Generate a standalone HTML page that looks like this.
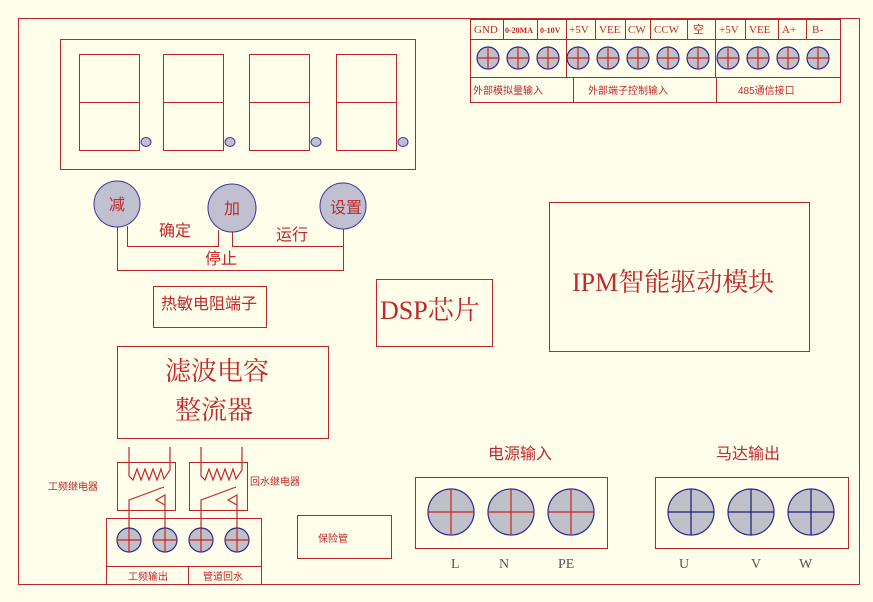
<!DOCTYPE html>
<html><head><meta charset="utf-8"><style>
html,body{margin:0;padding:0;background:#fffeea;}
svg{display:block}
text{font-family:"Liberation Serif","Noto Serif CJK SC",serif;fill:#c0282d}
.s{font-family:"Liberation Sans","Noto Sans CJK SC",sans-serif}
</style></head><body>
<svg width="873" height="602" viewBox="0 0 873 602" xmlns="http://www.w3.org/2000/svg">
<rect width="873" height="602" fill="#fffeea"/>
<g fill="none" stroke="#b8262a" stroke-width="1">
<rect x="18.5" y="18.5" width="841" height="566"/>
<rect x="60.5" y="39.5" width="355" height="130"/>
<rect x="79.5" y="54.5" width="60" height="96"/><line x1="79" y1="102.5" x2="140" y2="102.5"/>
<rect x="163.5" y="54.5" width="60" height="96"/><line x1="163" y1="102.5" x2="224" y2="102.5"/>
<rect x="249.5" y="54.5" width="60" height="96"/><line x1="249" y1="102.5" x2="310" y2="102.5"/>
<rect x="336.5" y="54.5" width="60" height="96"/><line x1="336" y1="102.5" x2="397" y2="102.5"/>
<polyline points="127.5,226 127.5,246.5 218.5,246.5 218.5,230"/>
<polyline points="232.5,231 232.5,246.5 343.5,246.5 343.5,229"/>
<polyline points="117.5,227 117.5,270.5 343.5,270.5 343.5,246"/>
<rect x="153.5" y="286.5" width="113" height="41"/>
<rect x="376.5" y="279.5" width="116" height="67"/>
<rect x="549.5" y="202.5" width="260" height="149"/>
<rect x="117.5" y="346.5" width="211" height="92"/>
<rect x="297.5" y="515.5" width="94" height="43"/>
<rect x="415.5" y="477.5" width="192" height="71"/>
<rect x="655.5" y="477.5" width="193" height="71"/>
<rect x="470.5" y="19.5" width="370" height="83"/>
<line x1="470" y1="39.5" x2="840" y2="39.5"/>
<line x1="470" y1="77.5" x2="840" y2="77.5"/>
<line x1="503.5" y1="19" x2="503.5" y2="39"/>
<line x1="537.5" y1="19" x2="537.5" y2="39"/>
<line x1="566.5" y1="19" x2="566.5" y2="77"/>
<line x1="595.5" y1="19" x2="595.5" y2="39"/>
<line x1="625.5" y1="19" x2="625.5" y2="39"/>
<line x1="650.5" y1="19" x2="650.5" y2="39"/>
<line x1="687.5" y1="19" x2="687.5" y2="39"/>
<line x1="715.5" y1="19" x2="715.5" y2="77"/>
<line x1="745.5" y1="19" x2="745.5" y2="39"/>
<line x1="778.5" y1="19" x2="778.5" y2="39"/>
<line x1="806.5" y1="19" x2="806.5" y2="39"/>
<line x1="573.5" y1="77" x2="573.5" y2="102"/>
<line x1="716.5" y1="77" x2="716.5" y2="102"/>
<rect x="117.5" y="462.5" width="58" height="48"/>
<rect x="189.5" y="462.5" width="58" height="48"/>
<rect x="106.5" y="518.5" width="155" height="66"/>
<line x1="106" y1="566.5" x2="261" y2="566.5"/>
<line x1="188.5" y1="566" x2="188.5" y2="584"/>
</g>
<g fill="none" stroke="#c0282d" stroke-width="1.2">
<polyline points="129,447 129,476 133,480 137,469 141,480 145,469 149,480 153,469 157,480 161,469 164,479 170,470 170,447"/>
<polyline points="129,540 129,500 164,487"/>
<polyline points="165,540 165,495 156,500 165,505"/>
<polyline points="201,447 201,476 205,480 209,469 213,480 217,469 221,480 225,469 229,480 233,469 236,479 242,470 242,447"/>
<polyline points="201,540 201,500 236,487"/>
<polyline points="237,540 237,495 228,500 237,505"/>
</g>
<g fill="#c0c0d0" stroke="#3a3a9a">
<ellipse cx="146" cy="142" rx="5" ry="4.5"/><ellipse cx="230" cy="142" rx="5" ry="4.5"/>
<ellipse cx="316" cy="142" rx="5" ry="4.5"/><ellipse cx="403" cy="142" rx="5" ry="4.5"/>
<circle cx="117" cy="204" r="23"/><circle cx="232" cy="208" r="24"/><circle cx="343" cy="206" r="23"/>
</g>
<g stroke-width="1.2">
<g fill="#c0c0c8" stroke="#2a2a8a">
<circle cx="488" cy="58" r="11"/><circle cx="518" cy="58" r="11"/><circle cx="548" cy="58" r="11"/><circle cx="578" cy="58" r="11"/><circle cx="608" cy="58" r="11"/><circle cx="638" cy="58" r="11"/><circle cx="668" cy="58" r="11"/><circle cx="698" cy="58" r="11"/><circle cx="728" cy="58" r="11"/><circle cx="758" cy="58" r="11"/><circle cx="788" cy="58" r="11"/><circle cx="818" cy="58" r="11"/>
<circle cx="129" cy="540" r="12"/><circle cx="165" cy="540" r="12"/><circle cx="201" cy="540" r="12"/><circle cx="237" cy="540" r="12"/>
<circle cx="451" cy="512" r="23"/><circle cx="511" cy="512" r="23"/><circle cx="571" cy="512" r="23"/>
<circle cx="691" cy="512" r="23"/><circle cx="751" cy="512" r="23"/><circle cx="811" cy="512" r="23"/>
</g>
<g stroke="#d02020">
<path d="M477 58h22M488 47v22M507 58h22M518 47v22M537 58h22M548 47v22M567 58h22M578 47v22M597 58h22M608 47v22M627 58h22M638 47v22M657 58h22M668 47v22M687 58h22M698 47v22M717 58h22M728 47v22M747 58h22M758 47v22M777 58h22M788 47v22M807 58h22M818 47v22"/>
<path d="M117 540h24M129 528v24M153 540h24M165 528v24M189 540h24M201 528v24M225 540h24M237 528v24"/>
<path d="M428 512h46M451 489v46M488 512h46M511 489v46M548 512h46M571 489v46"/>
</g>
<g stroke="#1a1a80">
<path d="M668 512h46M691 489v46M728 512h46M751 489v46M788 512h46M811 489v46"/>
</g>
</g>
<g font-size="11">
<text x="474" y="33">GND</text>
<text x="505" y="33" font-size="8" font-weight="bold">0-20MA</text>
<text x="540" y="33" font-size="8" font-weight="bold">0-10V</text>
<text x="569" y="33">+5V</text>
<text x="599" y="33">VEE</text>
<text x="628" y="33">CW</text>
<text x="654" y="33">CCW</text>
<text x="693" y="33" class="s">空</text>
<text x="719" y="33">+5V</text>
<text x="749" y="33">VEE</text>
<text x="782" y="33">A+</text>
<text x="812" y="33">B-</text>
</g>
<g font-size="10">
<text x="473" y="94" class="s">外部模拟量输入</text>
<text x="588" y="94" class="s">外部端子控制输入</text>
<text x="738" y="94" class="s">485通信接口</text>
<text x="48" y="490" class="s">工频继电器</text>
<text x="250" y="485" class="s">回水继电器</text>
<text x="128" y="580" class="s">工频输出</text>
<text x="203" y="580" class="s">管道回水</text>
<text x="318" y="542" class="s">保险管</text>
</g>
<g font-size="16">
<text x="117" y="210" text-anchor="middle" class="s">减</text>
<text x="232" y="214" text-anchor="middle" class="s">加</text>
<text x="346" y="213" text-anchor="middle" class="s">设置</text>
<text x="159" y="236" class="s">确定</text>
<text x="276" y="240" class="s">运行</text>
<text x="205" y="264" class="s">停止</text>
<text x="161" y="309" class="s">热敏电阻端子</text>
<text x="488" y="459" class="s">电源输入</text>
<text x="716" y="459" class="s">马达输出</text>
</g>
<text x="380" y="319" font-size="26">DSP芯片</text>
<text x="572" y="291" font-size="26">IPM智能驱动模块</text>
<text x="165" y="380" font-size="26">滤波电容</text>
<text x="175" y="419" font-size="26">整流器</text>
<g font-size="14">
<text x="451" y="568" style="fill:#555">L</text>
<text x="499" y="568" style="fill:#555">N</text>
<text x="558" y="568" style="fill:#555">PE</text>
<text x="679" y="568" style="fill:#555">U</text>
<text x="751" y="568" style="fill:#555">V</text>
<text x="799" y="568" style="fill:#555">W</text>
</g>
</svg>
</body></html>
